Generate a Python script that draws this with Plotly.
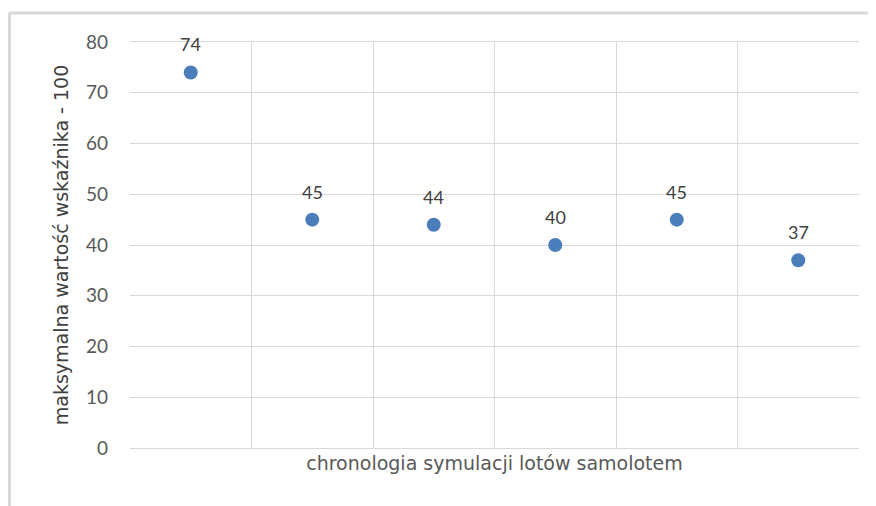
import plotly.graph_objects as go

categories = [1, 2, 3, 4, 5, 6]
values = [74, 45, 44, 40, 45, 37]
labels = ["74", "45", "44", "40", "45", "37"]
y_ticks = [0, 10, 20, 30, 40, 50, 60, 70, 80]

FONT = "Lato, Liberation Sans, sans-serif"
TFONT = "DejaVu Sans, sans-serif"
OFF = 8  # page body margin
W, H = 876 - OFF, 506 - OFF
L, R, T, B = 130 - OFF, 17, 42 - OFF, 58
pw, ph = W - L - R, H - T - B

def px_x(p):
    return (p - OFF - L) / pw

def px_y(p):
    return (H - B - (p - OFF)) / ph

fig = go.Figure()
fig.add_trace(go.Scatter(
    x=categories, y=values, mode="markers",
    marker=dict(size=14, color="#4A7EBB"),
    hoverinfo="skip", showlegend=False,
))

for c, v, t in zip(categories, values, labels):
    fig.add_annotation(x=c, y=v, text=t, showarrow=False, yshift=28,
                       font=dict(family=FONT, size=18, color="#404040"))

grid = "#D9D9D9"
fig.add_shape(type="line", xref="paper", yref="paper", x0=px_x(9), x1=px_x(876),
              y0=px_y(13), y1=px_y(13), line=dict(color=grid, width=3))
fig.add_shape(type="line", xref="paper", yref="paper", x0=px_x(9.5), x1=px_x(9.5),
              y0=px_y(13), y1=px_y(506), line=dict(color=grid, width=3))

fig.update_layout(
    width=W, height=H,
    margin=dict(l=L, r=R, t=T, b=B),
    paper_bgcolor="white", plot_bgcolor="white",
    font=dict(family=FONT, size=18, color="#595959"),
    xaxis=dict(range=[0.5, 6.5], tick0=0.5, dtick=1, tickmode="linear",
               showticklabels=False, showgrid=True, gridcolor=grid, gridwidth=1.3,
               zeroline=False, showline=True, linecolor=grid, linewidth=1.3,
               mirror=True, ticks="",
               title=dict(text="chronologia symulacji lotów samolotem",
                          font=dict(family=TFONT, size=19, color="#595959"), standoff=8)),
    yaxis=dict(range=[0, 80], tickvals=y_ticks, showgrid=True, gridcolor=grid, gridwidth=1.3,
               zeroline=False, showline=False, ticks="", ticklabelstandoff=21,
               tickfont=dict(family=FONT, size=19, color="#595959"),
               title=dict(text="maksymalna wartość wskaźnika - 100",
                          font=dict(family=TFONT, size=19, color="#404040"), standoff=12)),
)

fig.write_html("out.html")
